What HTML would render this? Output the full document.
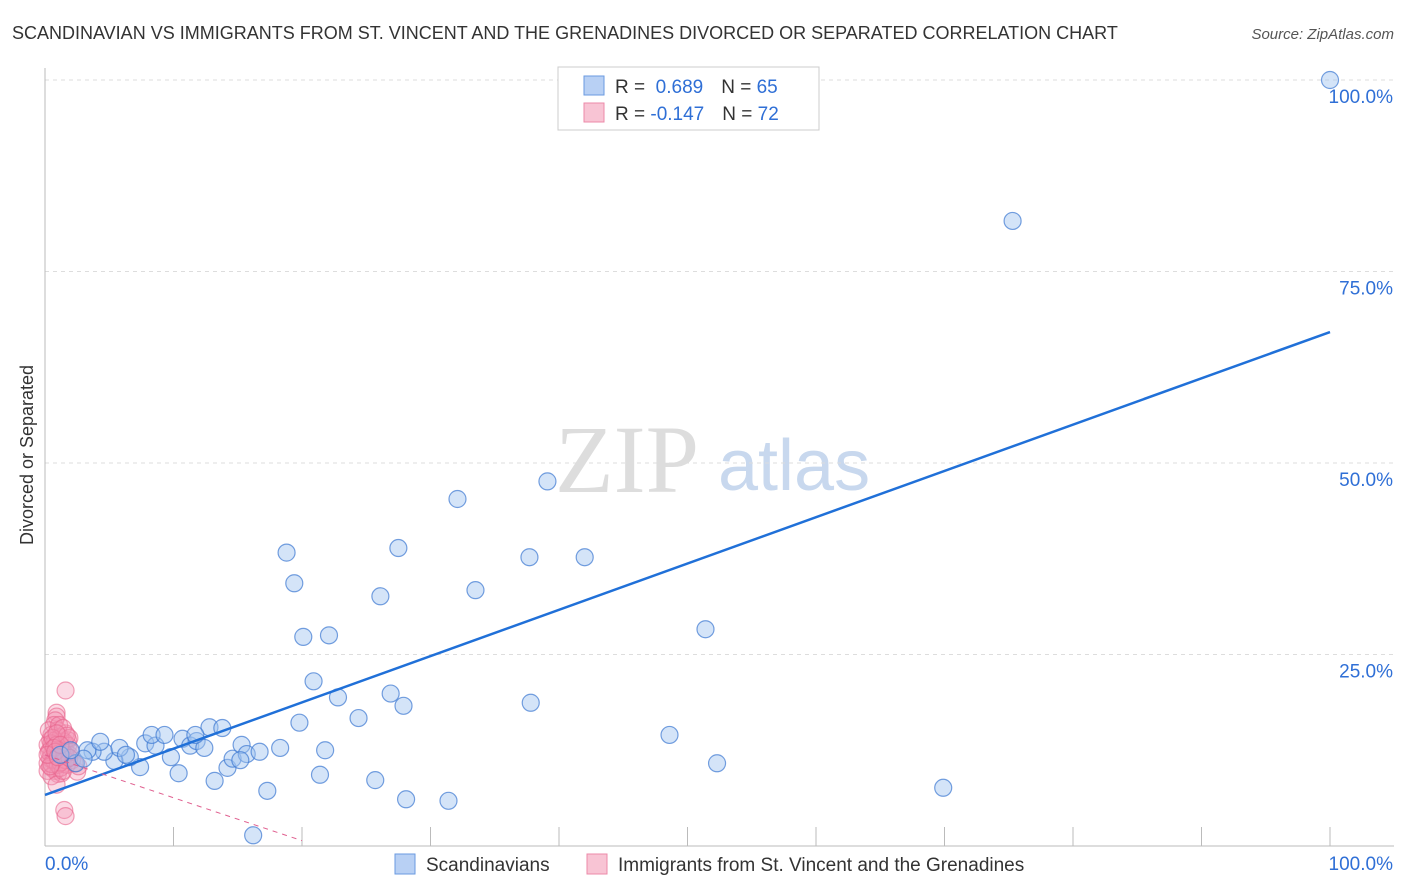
<!DOCTYPE html>
<html><head><meta charset="utf-8">
<style>
body{margin:0;background:#fff;font-family:"Liberation Sans",sans-serif;}
#wrap{position:relative;width:1406px;height:892px;overflow:hidden;}
</style></head>
<body>
<div id="wrap">
<svg id="chart" width="1406" height="892" xmlns="http://www.w3.org/2000/svg">
<text x="12" y="39" font-size="18" fill="#333">SCANDINAVIAN VS IMMIGRANTS FROM ST. VINCENT AND THE GRENADINES DIVORCED OR SEPARATED CORRELATION CHART</text>
<text x="1394" y="39" font-size="15" fill="#555" font-style="italic" text-anchor="end">Source: ZipAtlas.com</text>
<text x="33" y="455" font-size="18" fill="#333" text-anchor="middle" transform="rotate(-90 33 455)">Divorced or Separated</text>
<text x="555" y="492" font-size="96" fill="#ddd" font-family="Liberation Serif,serif">ZIP</text>
<text x="718" y="490" font-size="72" fill="#c8d8ee">atlas</text>
<g id="grid"></g>
<g id="marks"></g>
<g>
<rect x="558" y="67" width="261" height="63" fill="#fff" stroke="#ccc"/>
<rect x="584" y="76" width="20" height="19" fill="#b8d0f4" stroke="#6a9ae0"/>
<rect x="584" y="103" width="20" height="19" fill="#f8c4d4" stroke="#ec8aa8"/>
<text x="615" y="93" font-size="19" fill="#333">R = <tspan fill="#2f6fd6">&#160;0.689</tspan><tspan dx="18" fill="#333">N = </tspan><tspan fill="#2f6fd6">65</tspan></text>
<text x="615" y="120" font-size="19" fill="#333">R = <tspan fill="#2f6fd6">-0.147</tspan><tspan dx="18" fill="#333">N = </tspan><tspan fill="#2f6fd6">72</tspan></text>
</g>
<g>
<rect x="395" y="854" width="20" height="20" fill="#b8d0f4" stroke="#6a9ae0"/>
<text x="426" y="871" font-size="19" fill="#333">Scandinavians</text>
<rect x="587" y="854" width="20" height="20" fill="#f8c4d4" stroke="#ec8aa8"/>
<text x="618" y="871" font-size="19" fill="#333">Immigrants from St. Vincent and the Grenadines</text>
</g>
</svg>
</div>
<script>
const yTicks=[100,75,50,25];
const yTickLabels=["100.0%","75.0%","50.0%","25.0%"];
const blueX=[100,75.3,39.1,32.1,18.8,27.5,37.7,42,19.4,26.1,33.5,20.1,22.1,51.4,20.9,22.8,26.9,27.9,37.8,19.8,24.4,48.6,21.8,21.4,25.7,28.1,31.4,52.3,69.9,16.2,17.3,13.2,14.2,10.4,7.4,9.8,6.6,5.4,4.6,3.7,3.3,4.3,5.8,6.3,7.8,8.6,8.3,9.3,10.7,11.3,11.8,12.4,12.8,13.8,14.6,15.3,15.7,16.7,18.3,2.4,3,1.2,2,11.7,15.2];
const blueY=[100,81.6,47.6,45.3,38.3,38.9,37.7,37.7,34.3,32.6,33.4,27.3,27.5,28.3,21.5,19.4,19.9,18.3,18.7,16.1,16.7,14.5,12.5,9.3,8.6,6.1,5.9,10.8,7.6,1.4,7.2,8.5,10.2,9.5,10.3,11.6,11.6,11.1,12.3,12.3,12.5,13.6,12.8,11.9,13.4,13.1,14.5,14.5,14,13.1,13.7,12.8,15.5,15.4,11.4,13.2,12,12.3,12.8,10.8,11.4,11.9,12.5,14.5,11.2];
const pinkX=[1.6,0.9,0.9,0.8,0.7,1,1.6,1.8,0.5,0.4,0.6,1,1.3,1.6,1.9,0.4,0.5,0.9,1.2,1.4,0.2,0.5,0.8,1,1.3,2.5,2.6,0.2,0.3,1.2,1.5,2.1,1.7,0.6,0.9,1.2,0.4,0.8,1.1,1.4,0.2,0.5,1.8,1.9,1.6,1.5,1.6,0.9,0.7,1,1.2,1.3,1.6,0.3,0.5,0.6,0.9,1.1,1.2,1.4,2.3,2,1.9,1.7,0.9,0.7,0.5,0.4,0.2,0.8,1,1.2];
const pinkY=[20.3,17.4,16.9,16.4,15.8,15.1,14.7,13.8,14.5,13.8,13.2,13.6,12.9,12.5,11.9,12.5,11.9,11.5,11.2,10.7,10.8,10.2,9.8,9.4,9.5,9.7,10.4,13.2,15.1,14.2,13.6,11.2,10.6,11.2,12.5,11.9,11.4,13.8,15.8,15.4,9.8,9.1,13.1,14.1,11.9,4.7,3.9,8,11.2,10.6,10.2,12.5,11.2,12.3,13.4,14.1,13.2,12.1,10.9,9.8,10.8,12.3,11.5,14.4,14.7,12.8,10.7,10.4,11.9,12.3,11.6,13.2];
const blueLine=[6.66,67.1];
const pinkLine=[11.9,-0.56];
const NS="http://www.w3.org/2000/svg";
const X=v=>45+v*12.85, Y=v=>846-v*7.66;
function mk(t,a,p){const e=document.createElementNS(NS,t);for(const k in a)e.setAttribute(k,a[k]);p.appendChild(e);return e;}
const grid=document.getElementById('grid'), marks=document.getElementById('marks');
yTicks.forEach((t,i)=>{
 const l=mk('line',{x1:45,x2:1394,y1:Y(t),y2:Y(t),stroke:'#ddd','stroke-dasharray':'4,4'},grid);
 
 
 const tx=mk('text',{x:1393,y:Y(t)+23,'font-size':19,fill:'#2f6fd6','text-anchor':'end'},grid);
 tx.textContent=yTickLabels[i];
 
 
});
mk('line',{x1:45,x2:45,y1:68,y2:846,stroke:'#bbb'},grid);
mk('line',{x1:45,x2:1394,y1:846,y2:846,stroke:'#bbb'},grid);
for(let v=10;v<=100;v+=10){const t=mk('line',{x1:X(v),x2:X(v),y1:827,y2:846,stroke:'#bbb'},grid);}
const x0=mk('text',{x:45,y:870,'font-size':19,fill:'#2f6fd6'},grid);x0.textContent='0.0%';


const x1=mk('text',{x:1393,y:870,'font-size':19,fill:'#2f6fd6','text-anchor':'end'},grid);x1.textContent='100.0%';


pinkX.forEach((x,i)=>{const c=mk('circle',{cx:X(x),cy:Y(pinkY[i]),r:8.5,fill:'rgba(244,150,180,0.35)',stroke:'rgba(232,100,140,0.6)','stroke-width':1.2},marks);
 
 });
blueX.forEach((x,i)=>{const c=mk('circle',{cx:X(x),cy:Y(blueY[i]),r:8.5,fill:'rgba(160,195,240,0.45)',stroke:'rgba(60,120,210,0.7)','stroke-width':1.2},marks);
 
 });
const bl=mk('line',{x1:X(0),y1:Y(blueLine[0]),x2:X(100),y2:Y(blueLine[1]),stroke:'#2070d8','stroke-width':2.5},marks);


const pl=mk('line',{x1:X(0),y1:Y(pinkLine[0]),x2:X(20),y2:Y(pinkLine[0]+pinkLine[1]*20),stroke:'#e06090','stroke-width':1,'stroke-dasharray':'5,5'},marks);


</script>
</body></html>
